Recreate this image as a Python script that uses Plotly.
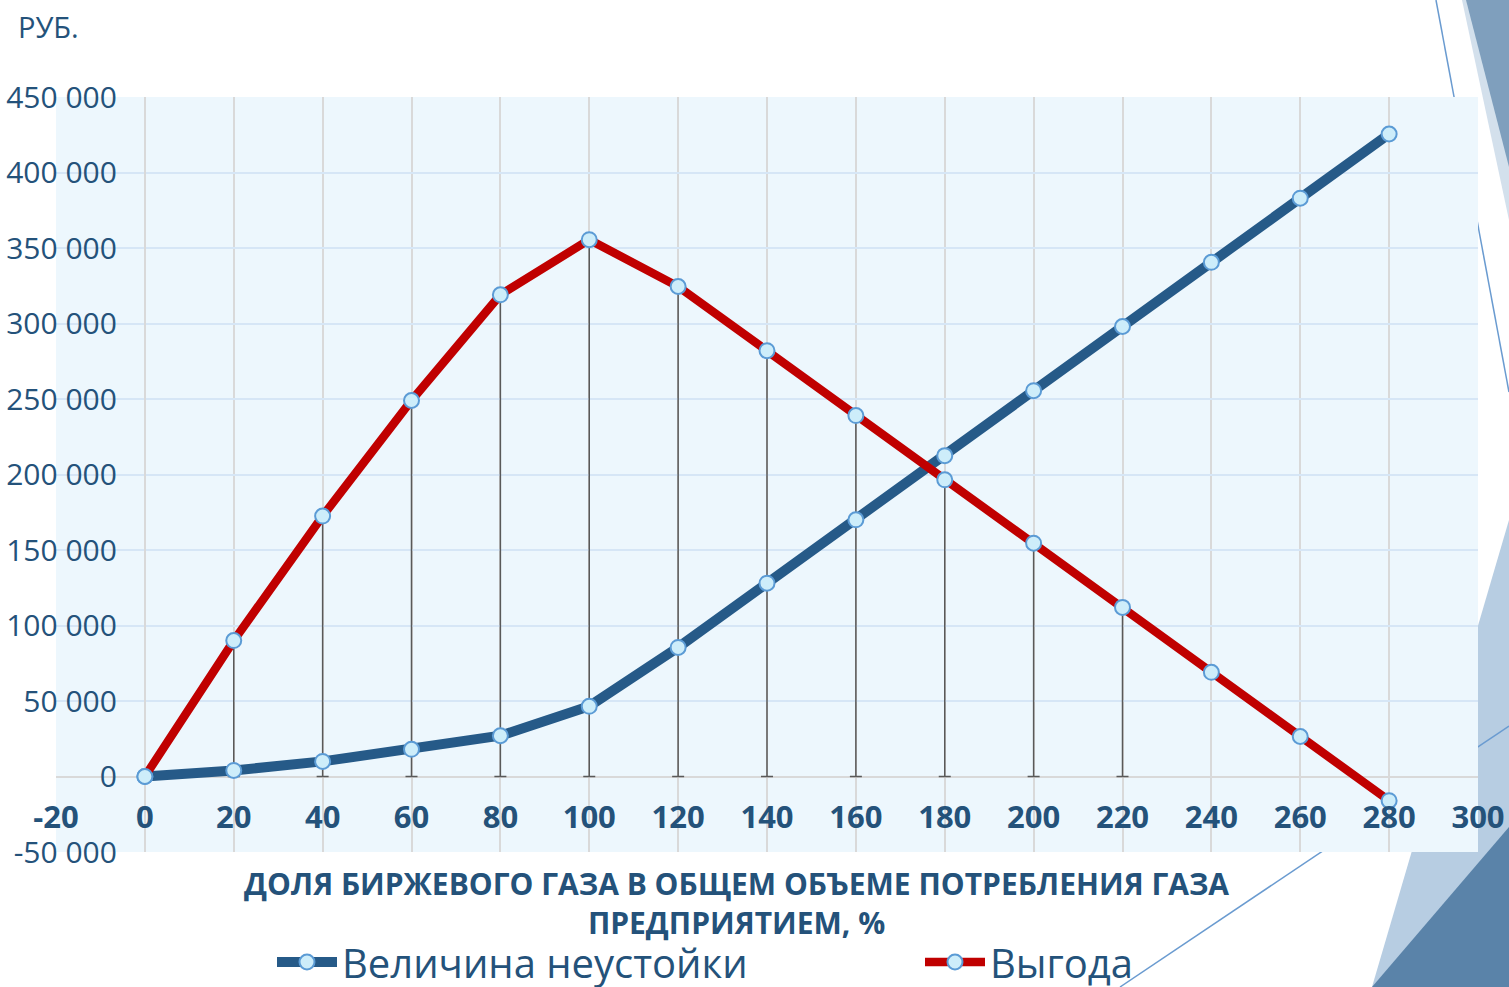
import plotly.graph_objects as go

# ---- data ----
share_pct = [0, 20, 40, 60, 80, 100, 120, 140, 160, 180, 200, 220, 240, 260, 280]
penalty = [0, 4000, 10000, 18000, 27000, 46500, 85500, 128000, 170000, 212500,
           255500, 298000, 340500, 383000, 425500]
benefit = [0, 90000, 172500, 249000, 319000, 355500, 324500, 282000, 239000, 196500,
           154500, 112000, 69000, 26500, -16000]
series_names = ["Величина неустойки", "Выгода"]

x_ticks = [-20, 0, 20, 40, 60, 80, 100, 120, 140, 160, 180, 200, 220, 240, 260, 280, 300]
x_tick_labels = ["-20", "0", "20", "40", "60", "80", "100", "120", "140", "160", "180",
                 "200", "220", "240", "260", "280", "300"]
y_ticks = [-50000, 0, 50000, 100000, 150000, 200000, 250000, 300000, 350000, 400000, 450000]
y_tick_labels = ["-50 000", "0", "50 000", "100 000", "150 000", "200 000", "250 000",
                 "300 000", "350 000", "400 000", "450 000"]
x_title = "ДОЛЯ БИРЖЕВОГО ГАЗА В ОБЩЕМ ОБЪЕМЕ ПОТРЕБЛЕНИЯ ГАЗА<br>ПРЕДПРИЯТИЕМ, %"
y_title = "РУБ."

# drop lines on the benefit series: points 20..220
drop_idx = list(range(1, 12))

# ---- layout geometry ----
W, H = 1509, 987
L, R, T, B = 56, 1478, 97, 852

TEXT = "#24527a"
BLUE = "#265a88"
RED = "#c00000"
MFILL = "#cdedfa"
MLINE = "#5b9bd5"
FONT = "Open Sans, sans-serif"


def px(x, y):
    return (x - L) / (R - L), (B - y) / (B - T)


def poly(points):
    s = ""
    for i, (x, y) in enumerate(points):
        a, b = px(x, y)
        s += ("M" if i == 0 else "L") + f"{a:.5f},{b:.5f} "
    return s + "Z"


fig = go.Figure()

# drop lines (error bars)
fig.add_trace(go.Scatter(
    x=[share_pct[i] for i in drop_idx],
    y=[benefit[i] for i in drop_idx],
    mode="markers",
    marker=dict(size=1, opacity=0),
    showlegend=False, hoverinfo="skip",
    error_y=dict(type="data", symmetric=False,
                 array=[0] * len(drop_idx),
                 arrayminus=[benefit[i] for i in drop_idx],
                 color="#595959", thickness=1.5, width=6),
))

fig.add_trace(go.Scatter(
    x=share_pct, y=penalty, name=series_names[0], mode="lines+markers",
    line=dict(color=BLUE, width=10),
    marker=dict(size=15, color=MFILL, line=dict(color=MLINE, width=2)),
))
fig.add_trace(go.Scatter(
    x=share_pct, y=benefit, name=series_names[1], mode="lines+markers",
    line=dict(color=RED, width=8.5),
    marker=dict(size=15, color=MFILL, line=dict(color=MLINE, width=2)),
))

# decorative slide shapes (drawn below the plot-area rectangle)
shapes = [
    dict(type="path", path=poly([(1462, 0), (1509, 0), (1509, 220)]),
         fillcolor="#d3e0ec", line=dict(width=0)),
    dict(type="path", path=poly([(1466, 0), (1509, 0), (1509, 167)]),
         fillcolor="#7f9fbd", line=dict(width=0)),
    dict(type="path", path=poly([(1509, 520), (1372, 987), (1509, 987)]),
         fillcolor="#b7cde2", line=dict(width=0)),
    dict(type="path", path=poly([(1509, 827), (1372, 987), (1509, 987)]),
         fillcolor="#5a83a9", line=dict(width=0)),
]
for (x0, y0), (x1, y1) in [((1436, 0), (1509, 392)), ((1120, 987), (1509, 726))]:
    a0, b0 = px(x0, y0)
    a1, b1 = px(x1, y1)
    shapes.append(dict(type="line", x0=a0, y0=b0, x1=a1, y1=b1,
                       line=dict(color="#6a9bd0", width=1.5)))
shapes.append(dict(type="rect", x0=0, y0=0, x1=1, y1=1,
                   fillcolor="#edf7fd", line=dict(width=0)))
for s in shapes:
    s.update(xref="paper", yref="paper", layer="below")

x_range = [x_ticks[0], x_ticks[-1]]
y_range = [y_ticks[0], y_ticks[-1]]

fig.update_layout(
    width=W, height=H,
    margin=dict(l=L, r=W - R, t=T, b=H - B, autoexpand=False),
    paper_bgcolor="white", plot_bgcolor="rgba(0,0,0,0)",
    font=dict(family=FONT, color=TEXT),
    shapes=shapes,
    showlegend=True,
    legend=dict(orientation="h", x=(272 - L) / (R - L), xanchor="left",
                y=(B - 962) / (B - T), yanchor="middle",
                font=dict(size=40, family=FONT, color=TEXT),
                entrywidth=573, entrywidthmode="pixels",
                bgcolor="rgba(0,0,0,0)", itemwidth=60),
    xaxis=dict(range=x_range, tickvals=x_ticks, ticktext=x_tick_labels,
               showgrid=True, gridcolor="#d9d9d9", gridwidth=1.5,
               zeroline=True, zerolinecolor="#d9d9d9", zerolinewidth=1.5,
               anchor="free", position=(0 - y_range[0]) / (y_range[1] - y_range[0]),
               tickfont=dict(size=31, family=FONT, color=TEXT, weight="bold"),
               ticks="", showline=False, ticklabelstandoff=19),
    yaxis=dict(range=y_range, tickvals=y_ticks, ticktext=y_tick_labels,
               showgrid=True, gridcolor="#d6e6f6", gridwidth=1.5,
               zeroline=True, zerolinecolor="#d9d9d9", zerolinewidth=1.5,
               anchor="free", position=(0 - x_range[0]) / (x_range[1] - x_range[0]),
               tickfont=dict(size=30, family=FONT, color=TEXT),
               ticks="", showline=False, ticklabelstandoff=28),
    annotations=[
        dict(text=y_title, xref="paper", yref="paper", x=px(16, 0)[0], y=px(0, 27)[1],
             xanchor="left", yanchor="middle", showarrow=False,
             font=dict(size=29, color=TEXT)),
        dict(text=x_title, xref="paper", yref="paper", x=px(736, 0)[0], y=px(0, 903)[1],
             xanchor="center", yanchor="middle", showarrow=False,
             font=dict(size=30, color=TEXT, weight="bold", family=FONT)),
    ],
)

fig.write_html("out.html", config={"displayModeBar": False},
               post_script="document.body.style.margin='0';document.body.style.overflow='hidden';")
